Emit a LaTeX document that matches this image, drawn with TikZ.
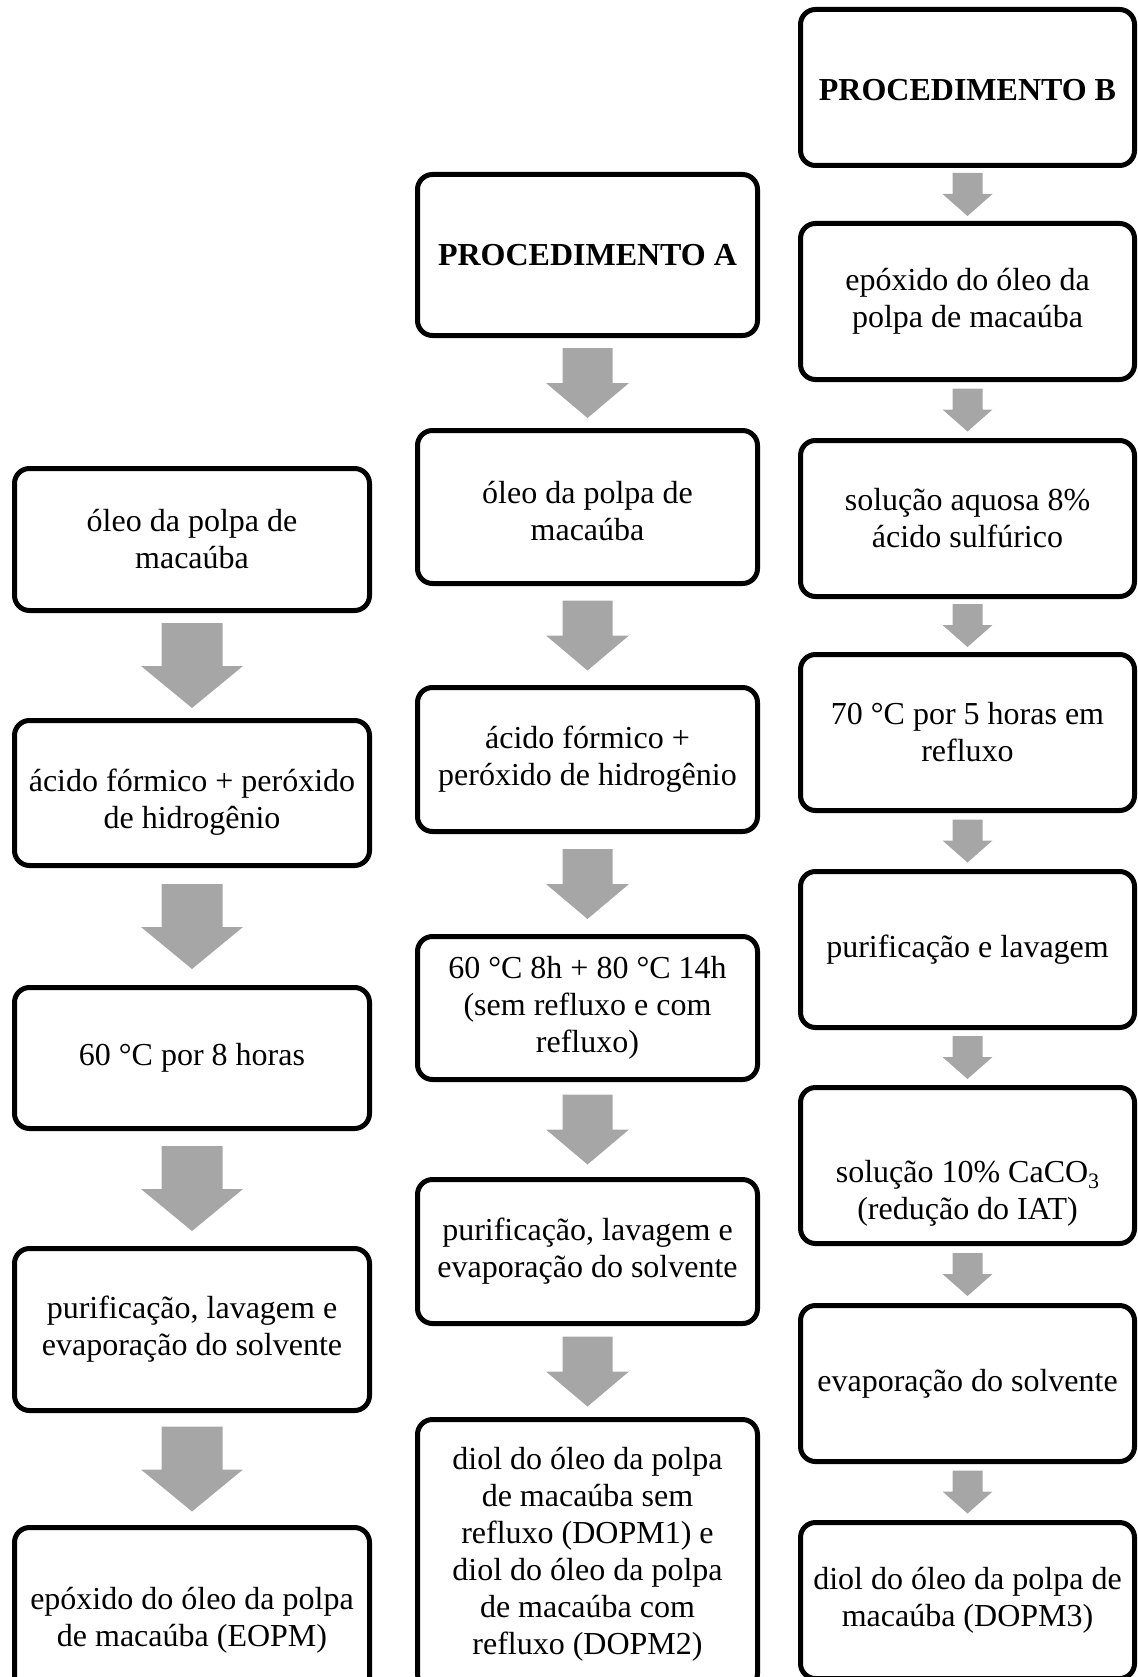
\documentclass[tikz,border=0pt]{standalone}
\usepackage{fontspec}
\setmainfont{Liberation Serif}
\usetikzlibrary{calc}
\definecolor{arrowgrey}{HTML}{A6A6A6}
\newcommand\boxfont{\fontsize{32}{37}\selectfont}
\newcommand\lowered[2]{\raisebox{-#1}[\height][\depth]{\begin{tabular}{@{}c@{}}#2\end{tabular}}}
\newcommand\blkarrow[6]{%
  \coordinate (bamid) at ($(#1.south)!0.5!(#2.north)$);
  \coordinate (batop) at ($(bamid)+(0,-#6/2)$);
  \coordinate (batip) at ($(bamid)+(0,#6/2)$);
  \fill[arrowgrey] ($(batop)+(-#3,0)$) -- ($(batop)+(#3,0)$) -- ($(batip)+(#3,-#5)$)
    -- ($(batip)+(#4,-#5)$) -- (batip) -- ($(batip)+(-#4,-#5)$) -- ($(batip)+(-#3,-#5)$) -- cycle;
}
\tikzset{
  box/.style={draw=black, line width=5pt, rounded corners=15pt, fill=white,
    align=center, inner sep=0pt, font=\boxfont},
  lbox/.style={box, minimum width=355pt},
  mbox/.style={box, minimum width=340pt},
  rbox/.style={box, minimum width=334pt, minimum height=156pt},
}
\begin{document}
\begin{tikzpicture}[x=1pt,y=-1pt]
\useasboundingbox (0,0) rectangle (1137,1677);
\clip (0,0) rectangle (1137,1677);
% left column
\node[lbox, minimum height=142pt] (L1) at (192,539.5) {óleo da polpa de\\macaúba};
\node[lbox, minimum height=145pt] (L2) at (192,793) {\lowered{10pt}{ácido fórmico + peróxido\\de hidrogênio}};
\node[lbox, minimum height=141pt] (L3) at (192,1058) {60 °C por 8 horas};
\node[lbox, minimum height=162pt] (L4) at (192,1329.5) {purificação, lavagem e\\evaporação do solvente};
\node[lbox, minimum height=185pt] (L5) at (192,1620) {epóxido do óleo da polpa\\de macaúba (EOPM)};
% middle column
\node[mbox, minimum height=161pt] (M1) at (587.5,255) {\bfseries PROCEDIMENTO A};
\node[mbox, minimum height=153pt] (M2) at (587.5,507) {\lowered{8pt}{óleo da polpa de\\macaúba}};
\node[mbox, minimum height=144pt] (M3) at (587.5,759.5) {ácido fórmico +\\peróxido de hidrogênio};
\node[mbox, minimum height=143pt] (M4) at (587.5,1008) {60 °C 8h + 80 °C 14h\\(sem refluxo e com\\refluxo)};
\node[mbox, minimum height=144pt] (M5) at (587.5,1251.5) {purificação, lavagem e\\evaporação do solvente};
\node[mbox, minimum height=269pt] (M6) at (587.5,1554) {diol do óleo da polpa\\de macaúba sem\\refluxo (DOPM1) e\\diol do óleo da polpa\\de macaúba com\\refluxo (DOPM2)};
% right column
\node[rbox] (R1) at (967.5,87.5) {\lowered{6pt}{\bfseries PROCEDIMENTO B}};
\node[rbox] (R2) at (967.5,301.5) {epóxido do óleo da\\polpa de macaúba};
\node[rbox] (R3) at (967.5,518.5) {solução aquosa 8\%\\ácido sulfúrico};
\node[rbox] (R4) at (967.5,732.5) {70 °C por 5 horas em\\refluxo};
\node[rbox] (R5) at (967.5,949.5) {purificação e lavagem};
\node[rbox] (R6) at (967.5,1165.5) {\lowered{28pt}{solução 10\% CaCO\raisebox{-6pt}{\fontsize{22}{22}\selectfont 3}\\(redução do IAT)}};
\node[rbox] (R7) at (967.5,1383.5) {evaporação do solvente};
\node[rbox] (R8) at (967.5,1600.5) {diol do óleo da polpa de\\macaúba (DOPM3)};
% arrows
\blkarrow{L1}{L2}{30.5}{51}{42}{85}
\blkarrow{L2}{L3}{30.5}{51}{42}{85}
\blkarrow{L3}{L4}{30.5}{51}{42}{85}
\blkarrow{L4}{L5}{30.5}{51}{42}{85}
\blkarrow{M1}{M2}{25}{41.5}{35}{70}
\blkarrow{M2}{M3}{25}{41.5}{35}{70}
\blkarrow{M3}{M4}{25}{41.5}{35}{70}
\blkarrow{M4}{M5}{25}{41.5}{35}{70}
\blkarrow{M5}{M6}{25}{41.5}{35}{70}
\blkarrow{R1}{R2}{15}{25}{22}{43}
\blkarrow{R2}{R3}{15}{25}{22}{43}
\blkarrow{R3}{R4}{15}{25}{22}{43}
\blkarrow{R4}{R5}{15}{25}{22}{43}
\blkarrow{R5}{R6}{15}{25}{22}{43}
\blkarrow{R6}{R7}{15}{25}{22}{43}
\blkarrow{R7}{R8}{15}{25}{22}{43}
\end{tikzpicture}
\end{document}
